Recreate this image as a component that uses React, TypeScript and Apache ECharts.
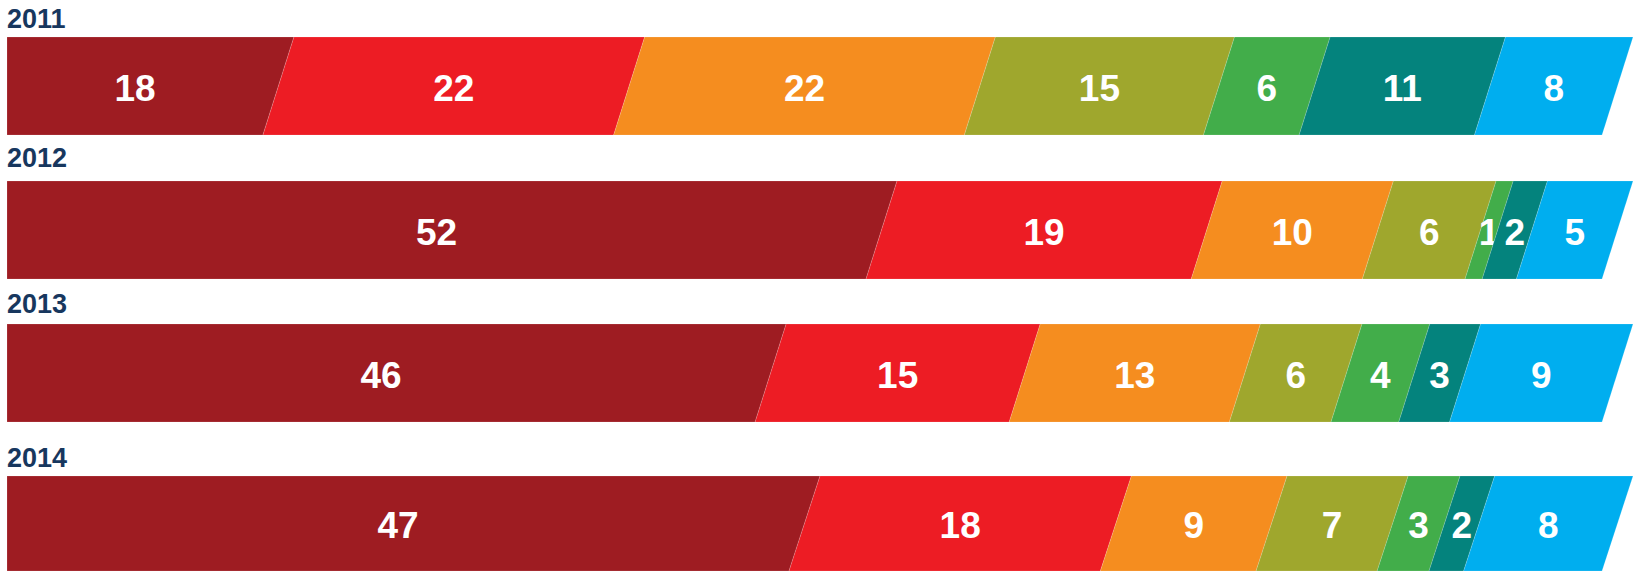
import React, { useEffect, useRef } from 'react';
import * as echarts from 'echarts';

// ---- data ----
const years = ['2011', '2012', '2013', '2014'];
const segmentNames = ['Segment 1', 'Segment 2', 'Segment 3', 'Segment 4', 'Segment 5', 'Segment 6', 'Segment 7'];
const seg1 = [18, 52, 46, 47];
const seg2 = [22, 19, 15, 18];
const seg3 = [22, 10, 13, 9];
const seg4 = [15, 6, 6, 7];
const seg5 = [6, 1, 4, 3];
const seg6 = [11, 2, 3, 2];
const seg7 = [8, 5, 9, 8];
const segments = [seg1, seg2, seg3, seg4, seg5, seg6, seg7];

// ---- style / layout ----
const colors = ['#9E1C22', '#ED1C24', '#F58D1F', '#9FA72D', '#42AD4A', '#04837D', '#00AEEF'];
const ROW_TOPS = [37, 181, 324, 476];
const LABEL_CENTERS = [18, 157, 303, 457];
const BAR_H = 98;
const LEFT = 7;
const WIDTH = 1627;
const SLANT = 31;
const LABEL_DY = 2;

export default function App() {
  const ref = useRef<HTMLDivElement>(null);

  useEffect(() => {
    document.body.style.margin = '0';
    if (!ref.current) return;
    const chart = echarts.init(ref.current, undefined, { renderer: 'svg' });

    const rows = years.map((_, i) => segments.map((s) => s[i]));

    const series = rows.map((vals, i) => {
      let acc = 0;
      const data = vals.map((v, k) => {
        const start = acc;
        acc += v;
        return { name: segmentNames[k], value: [start, acc, v, k] };
      });
      return {
        type: 'custom',
        xAxisIndex: i,
        yAxisIndex: i,
        encode: { x: [0, 1] },
        data,
        renderItem: (params: any, api: any) => {
          const s = api.value(0);
          const e = api.value(1);
          const v = api.value(2);
          const k = api.value(3);
          const tl = api.coord([s, 1]);
          const tr = api.coord([e, 1]);
          const bl = api.coord([s, 0]);
          const top = tl[1];
          const bottom = bl[1];
          const left = params.coordSys.x;
          const pts = [
            [Math.max(tl[0], left), top],
            [tr[0], top],
            [tr[0] - SLANT, bottom],
            [Math.max(tl[0] - SLANT, left), bottom],
          ];
          return {
            type: 'group',
            children: [
              {
                type: 'polygon',
                shape: { points: pts },
                style: { fill: colors[k], stroke: 'rgba(255,255,255,0.25)', lineWidth: 0.6 },
              },
              {
                type: 'text',
                style: {
                  text: String(v),
                  x: (tl[0] + tr[0]) / 2 - SLANT / 2,
                  y: (top + bottom) / 2 + LABEL_DY,
                  fill: '#ffffff',
                  font: 'bold 37px "Liberation Sans", Arial, sans-serif',
                  align: 'center',
                  verticalAlign: 'middle',
                },
              },
            ],
          };
        },
      };
    });

    chart.setOption({
      animation: false,
      grid: ROW_TOPS.map((t) => ({ left: LEFT, top: t, width: WIDTH, height: BAR_H })),
      xAxis: rows.map((vals, i) => ({
        type: 'value',
        gridIndex: i,
        min: 0,
        max: vals.reduce((a, b) => a + b, 0),
        show: false,
      })),
      yAxis: rows.map((_, i) => ({ type: 'value', gridIndex: i, min: 0, max: 1, show: false })),
      graphic: years.map((y, i) => ({
        type: 'text',
        x: LEFT,
        y: LABEL_CENTERS[i] + 1,
        style: {
          text: y,
          fill: '#17375E',
          font: 'bold 27px "Liberation Sans", Arial, sans-serif',
          align: 'left',
          verticalAlign: 'middle',
        },
      })),
      series,
    });

    return () => chart.dispose();
  }, []);

  return <div ref={ref} style={{ width: 1633, height: 571 }} />;
}
